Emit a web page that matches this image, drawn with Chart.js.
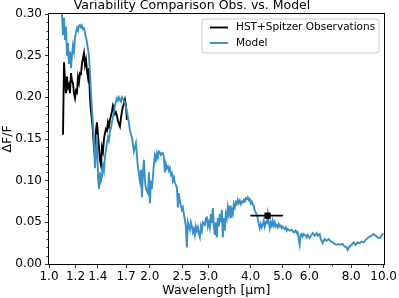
<!DOCTYPE html>
<html><head><meta charset="utf-8">
<script src="https://cdn.jsdelivr.net/npm/chart.js@4.4.1/dist/chart.umd.min.js"></script>
<style>html,body{margin:0;padding:0;background:#fff;overflow:hidden}</style>
</head><body>
<canvas id="c" width="399" height="298" style="width:399px;height:298px;display:block"></canvas>
<script>
// ---- data ----
const modelWl = [1.0935,1.1011,1.1088,1.1164,1.1240,1.1317,1.1396,1.1473,1.1553,1.1633,1.1713,1.1794,1.1875,1.1958,1.2040,1.2123,1.2207,1.2291,1.2375,1.2461,1.2547,1.2633,1.2721,1.2808,1.2897,1.2986,1.3075,1.3166,1.3256,1.3348,1.3440,1.3532,1.3626,1.3719,1.3814,1.3909,1.4005,1.4102,1.4200,1.4298,1.4396,1.4496,1.4596,1.4695,1.4797,1.4899,1.5002,1.5105,1.5211,1.5315,1.5421,1.5528,1.5634,1.5742,1.5851,1.5960,1.6071,1.6181,1.6293,1.6406,1.6519,1.6633,1.6748,1.6863,1.6980,1.7097,1.7215,1.7334,1.7454,
1.7696,1.7941,1.8189,1.8441,1.8696,1.8825,1.8955,1.9086,1.9217,1.9350,1.9483,1.9753,1.9889,2.0026,2.0164,2.0303,2.0443,2.0584,2.0726,2.0869,2.1013,2.1157,2.1303,2.1450,2.1598,2.1747,2.1897,2.2048,2.2200,2.2353,2.2507,2.2662,2.2818,2.2976,2.3134,2.3294,2.3455,2.3616,2.3779,2.3942,2.4107,2.4274,2.4441,2.4610,2.4780,2.4950,2.5122,2.5295,2.5470,2.5645,2.5822,2.6000,2.6179,2.6360,2.6542,2.6725,2.6909,2.7094,2.7281,2.7469,2.7658,2.7850,2.8042,2.8235,2.8430,2.8625,2.8822,2.9221,2.9423,2.9626,2.9830,3.0036,3.0243,3.0452,3.0661,3.0873,3.1085,3.1299,3.1515,3.1732,3.1951,3.2171,3.2393,3.2616,3.2842,3.3068,3.3296,3.3526,3.3757,3.3990,3.4224,3.4460,3.4697,3.4936,3.5177,3.5420,3.5664,3.5910,3.6157,3.6406,3.6658,3.6911,3.7165,3.7421,3.7679,3.7939,3.8200,3.8464,3.8729,3.8996,3.9265,3.9536,3.9808,4.0083,4.0359,4.0637,4.0917,4.1199,4.1483,4.1769,4.2057,4.2347,4.2639,4.2933,4.3229,4.3527,4.3827,4.4129,4.4433,4.4740,4.5048,4.5359,4.5671,4.5986,4.6303,4.6622,4.6944,4.7268,4.7593,4.7921,4.8252,4.8585,4.8919,4.9257,4.9596,4.9938,5.0282,5.0629,5.0978,5.1330,5.1683,5.2398,5.3123,5.3858,5.4603,5.4980,5.5358,5.5740,5.6124,5.6511,5.6900,5.7293,5.7688,5.8486,5.8889,5.9295,6.0115,6.0947,6.1367,6.2216,6.3077,6.3512,6.4390,6.4834,6.5731,6.6640,6.7563,6.8497,6.9445,7.0405,7.1380,7.2368,7.3369,7.4384,7.5413,7.6456,7.7514,7.8048,7.9128,8.0223,8.1333,8.2458,8.3599,8.4755,8.5928,8.7117,8.8322,8.9544,9.0783,9.2039,9.3313,9.4604,9.5913,9.7240,9.8585,9.995];
const modelVal = [0.300,0.275,0.295,0.270,0.285,0.250,0.265,0.240,0.255,0.235,0.250,0.262,0.255,0.272,0.278,0.283,0.280,0.286,0.287,0.284,0.286,0.282,0.283,0.278,0.272,0.266,0.258,0.250,0.230,0.205,0.185,0.168,0.150,0.115,0.135,0.155,0.105,0.090,0.110,0.100,0.105,0.118,0.112,0.128,0.137,0.145,0.152,0.148,0.160,0.163,0.170,0.176,0.182,0.190,0.195,0.199,0.196,0.200,0.197,0.195,0.200,0.198,0.196,0.194,0.188,0.183,0.176,0.169,0.160,
0.152,0.135,0.145,0.116,0.100,0.113,0.080,0.110,0.125,0.100,0.090,0.085,0.110,0.073,0.100,0.090,0.105,0.120,0.130,0.125,0.133,0.128,0.135,0.134,0.131,0.133,0.133,0.128,0.110,0.120,0.115,0.117,0.112,0.115,0.107,0.109,0.100,0.104,0.097,0.095,0.092,0.068,0.085,0.075,0.070,0.065,0.068,0.060,0.053,0.045,0.020,0.050,0.045,0.041,0.050,0.045,0.038,0.042,0.035,0.045,0.040,0.044,0.036,0.032,0.045,0.040,0.050,0.047,0.055,0.056,0.045,0.050,0.044,0.060,0.049,0.067,0.045,0.035,0.050,0.032,0.055,0.045,0.060,0.050,0.065,0.032,0.055,0.040,0.060,0.055,0.068,0.060,0.070,0.055,0.065,0.060,0.072,0.068,0.074,0.072,0.077,0.073,0.076,0.072,0.075,0.074,0.077,0.075,0.079,0.078,0.080,0.077,0.078,0.073,0.075,0.071,0.070,0.064,0.062,0.059,0.055,0.048,0.043,0.048,0.044,0.047,0.052,0.045,0.050,0.049,0.060,0.050,0.043,0.050,0.046,0.052,0.046,0.050,0.045,0.047,0.044,0.048,0.045,0.046,0.043,0.045,0.043,0.042,0.044,0.040,0.042,0.040,0.041,0.038,0.040,0.037,0.038,0.030,0.023,0.035,0.036,0.033,0.036,0.034,0.032,0.035,0.031,0.035,0.037,0.034,0.037,0.034,0.036,0.030,0.025,0.030,0.028,0.030,0.027,0.026,0.024,0.023,0.024,0.023,0.024,0.021,0.020,0.017,0.021,0.023,0.026,0.023,0.026,0.025,0.027,0.026,0.029,0.031,0.033,0.034,0.036,0.034,0.032,0.031,0.034,0.037];
const obsWl = [1.1011,1.1088,1.1164,1.1240,1.1317,1.1396,1.1473,1.1553,1.1633,1.1713,1.1794,1.1875,1.1958,1.2040,1.2123,1.2207,1.2291,1.2375,1.2461,1.2547,1.2633,1.2721,1.2808,1.2897,1.2986,1.3075,1.3166,1.3256,1.3348,1.3440,1.3532,1.3626,1.3719,1.3814,1.3909,1.4005,1.4102,1.4200,1.4298,1.4396,1.4496,1.4596,1.4695,1.4797,1.4899,1.5002,1.5105,1.5211,1.5315,1.5421,1.5528,1.5634,1.5742,1.5851,1.5960,1.6071,1.6181,1.6293,1.6406,1.6519,1.6633,1.6748,1.6863,1.6980,1.7097];
const obsVal = [0.155,0.242,0.220,0.205,0.225,0.212,0.215,0.205,0.229,0.220,0.217,0.205,0.199,0.208,0.206,0.224,0.218,0.229,0.228,0.240,0.247,0.253,0.239,0.245,0.232,0.224,0.235,0.200,0.183,0.173,0.160,0.140,0.128,0.160,0.170,0.155,0.140,0.125,0.119,0.140,0.135,0.150,0.157,0.162,0.160,0.170,0.165,0.173,0.178,0.183,0.190,0.186,0.180,0.182,0.178,0.172,0.168,0.165,0.175,0.183,0.189,0.192,0.197,0.190,0.173];
const spitzerWl = [4.5];
const spitzerVal = [0.058];
const spitzerWlLo = [4.0];
const spitzerWlHi = [5.0];
const xTicks = [1.0,1.2,1.4,1.7,2.0,2.5,3.0,4.0,5.0,6.0,8.0,10.0];
const xMinorTicks = [7.0,9.0];
const yTicks = [0.00,0.05,0.10,0.15,0.20,0.25,0.30];
const yMinorTicks = [0.01,0.02,0.03,0.04,0.06,0.07,0.08,0.09,0.11,0.12,0.13,0.14,0.16,0.17,0.18,0.19,0.21,0.22,0.23,0.24,0.26,0.27,0.28,0.29];
const titleText = 'Variability Comparison Obs. vs. Model';
const obsLabel = 'HST+Spitzer Observations';
const modelLabel = 'Model';

const BLUE = '#3a8fc7';
const LW = 1.9;
Chart.defaults.font.family = "'DejaVu Sans', sans-serif";
Chart.defaults.color = '#000';

const decor = {
  id: 'decor',
  afterDraw(chart) {
    const {ctx, chartArea: a, scales: {x, y}} = chart;
    ctx.save();
    // minor ticks
    ctx.strokeStyle = '#000'; ctx.lineWidth = 0.8;
    ctx.beginPath();
    yMinorTicks.forEach(v => { const py = Math.round(y.getPixelForValue(v)) + 0.5; ctx.moveTo(a.left, py); ctx.lineTo(a.left - 2.5, py); });
    xMinorTicks.forEach(v => { const px = Math.round(x.getPixelForValue(v)) + 0.5; ctx.moveTo(px, a.bottom); ctx.lineTo(px, a.bottom + 2.5); });
    ctx.stroke();
    // frame
    ctx.strokeStyle = '#000'; ctx.lineWidth = 1;
    ctx.strokeRect(Math.round(a.left) - 0.5, Math.round(a.top) - 0.5, Math.round(a.right - a.left) + 1, Math.round(a.bottom - a.top) + 1);
    // legend
    const bx = 202, by = 19, bw = 177, bh = 34, r = 3;
    ctx.beginPath();
    ctx.moveTo(bx + r, by); ctx.lineTo(bx + bw - r, by); ctx.arcTo(bx + bw, by, bx + bw, by + r, r);
    ctx.lineTo(bx + bw, by + bh - r); ctx.arcTo(bx + bw, by + bh, bx + bw - r, by + bh, r);
    ctx.lineTo(bx + r, by + bh); ctx.arcTo(bx, by + bh, bx, by + bh - r, r);
    ctx.lineTo(bx, by + r); ctx.arcTo(bx, by, bx + r, by, r); ctx.closePath();
    ctx.fillStyle = 'rgba(255,255,255,0.8)'; ctx.fill();
    ctx.strokeStyle = '#cccccc'; ctx.lineWidth = 1; ctx.stroke();
    const rows = [[obsLabel, '#000', 27.5], [modelLabel, BLUE, 43]];
    ctx.font = "10.5px 'DejaVu Sans'"; ctx.textBaseline = 'middle'; ctx.textAlign = 'left';
    rows.forEach(([t, c, yy]) => {
      ctx.strokeStyle = c; ctx.lineWidth = LW;
      ctx.beginPath(); ctx.moveTo(210, yy); ctx.lineTo(228, yy); ctx.stroke();
      ctx.fillStyle = '#000'; ctx.fillText(t, 236, yy);
    });
    ctx.restore();
  }
};

new Chart(document.getElementById('c'), {
  type: 'line',
  data: {
    datasets: [
      { label: 'errbar', data: [{x: spitzerWlLo[0], y: spitzerVal[0]}, {x: spitzerWlHi[0], y: spitzerVal[0]}],
        borderColor: '#000', borderWidth: LW, pointRadius: 0, order: 0 },
      { label: 'spitzer', type: 'scatter', data: spitzerWl.map((w, i) => ({x: w, y: spitzerVal[i]})),
        pointStyle: 'rect', pointRadius: 4.5, pointBackgroundColor: '#000', pointBorderColor: '#000', pointBorderWidth: 0, order: 0 },
      { label: modelLabel, data: modelWl.map((w, i) => ({x: w, y: modelVal[i]})),
        borderColor: BLUE, borderWidth: LW, pointRadius: 0, tension: 0, order: 1 },
      { label: obsLabel, data: obsWl.map((w, i) => ({x: w, y: obsVal[i]})),
        borderColor: '#000', borderWidth: LW, pointRadius: 0, tension: 0, order: 2 }
    ]
  },
  options: {
    responsive: false, animation: false, devicePixelRatio: 1,
    layout: {padding: {left: 0, right: 15, top: 0, bottom: 0}},
    plugins: {
      legend: {display: false}, tooltip: {enabled: false},
      title: {display: true, text: titleText, color: '#000',
        font: {size: 12.5, weight: 'normal', lineHeight: 0.88}, padding: {top: 0, bottom: 3}}
    },
    scales: {
      x: {
        type: 'logarithmic', min: 1, max: 10,
        afterBuildTicks: s => { s.ticks = xTicks.map(v => ({value: v})); },
        afterFit: s => { s.height = 34; },
        ticks: {autoSkip: false, maxRotation: 0, minRotation: 0, padding: 2, font: {size: 12},
          callback: v => Number(v).toFixed(1)},
        grid: {drawOnChartArea: false, drawTicks: true, tickLength: 4, color: '#000', lineWidth: 0.8},
        border: {display: false},
        title: {display: true, text: 'Wavelength [μm]', font: {size: 12.5}, padding: 0}
      },
      y: {
        type: 'linear', min: 0, max: 0.3,
        afterBuildTicks: s => { s.ticks = yTicks.map(v => ({value: v})); },
        afterFit: s => { s.width = 49; },
        ticks: {padding: 3, font: {size: 12}, callback: v => Number(v).toFixed(2)},
        grid: {drawOnChartArea: false, drawTicks: true, tickLength: 4, color: '#000', lineWidth: 0.8},
        border: {display: false},
        title: {display: true, text: 'ΔF/F', font: {size: 12.5}, padding: 0}
      }
    }
  },
  plugins: [decor]
});
</script>
</body></html>
